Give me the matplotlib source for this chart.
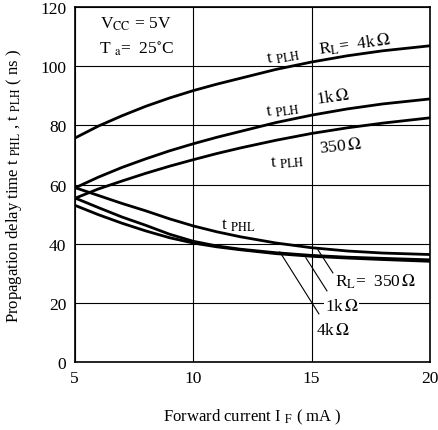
import matplotlib
matplotlib.use("Agg")
import matplotlib.pyplot as plt

plt.rcParams['font.family'] = ['Liberation Serif', 'DejaVu Serif']
plt.rcParams['mathtext.fontset'] = 'stix'

# forward current (mA)
current = [5, 6, 7, 8, 9, 10, 11, 12, 13.5, 15, 16.5, 18, 20]

# tPLH curves (ns)
tplh_4k = [75.7, 79.8, 83.3, 86.5, 89.3, 91.8, 94.0, 96.0, 99.0, 101.5, 103.6, 105.3, 107.0]
tplh_1k = [58.8, 62.5, 65.8, 68.7, 71.4, 73.8, 76.0, 78.0, 81.0, 83.5, 85.6, 87.3, 89.0]
tplh_350 = [55.3, 58.5, 61.2, 63.8, 66.2, 68.4, 70.5, 72.4, 75.0, 77.3, 79.2, 80.8, 82.6]

# tPHL curves (ns)
tphl_350 = [59.0, 56.3, 53.6, 51.1, 48.4, 46.0, 44.0, 42.3, 40.2, 38.6, 37.5, 36.8, 36.3]
tphl_1k = [55.5, 52.2, 49.0, 46.2, 43.2, 40.8, 39.2, 38.1, 36.9, 36.0, 35.4, 35.0, 34.5]
tphl_4k = [53.0, 49.8, 46.9, 44.3, 42.0, 40.2, 38.9, 37.9, 36.6, 35.7, 35.1, 34.6, 34.0]

fig = plt.figure(figsize=(4.39, 4.31), dpi=100)
ax = fig.add_axes([0.170, 0.1585, 0.8095, 0.822])

for series in [tplh_4k, tplh_1k, tplh_350, tphl_350, tphl_1k, tphl_4k]:
    ax.plot(current, series, color='black', lw=2.0, solid_capstyle='butt', zorder=3)

ax.set_xlim(5, 20)
ax.set_ylim(0, 120)
ax.set_xticks([5, 10, 15, 20])
ax.set_yticks(range(0, 121, 20))
ax.grid(color='black', lw=0.8)
ax.tick_params(length=0, labelsize=12.5, pad=6)
for s in ax.spines.values():
    s.set_linewidth(1.2)

ax.set_xlabel(r'Forward current I $_{\mathrm{F}}$ ( mA )', fontsize=12, labelpad=15)
ax.set_ylabel(r'Propagation delay time t $_{\mathrm{PHL}}$ , t $_{\mathrm{PLH}}$ ( ns )',
              fontsize=12, labelpad=12)

fs = 12.5
ax.text(6.05, 114.5, r'V$_{\mathrm{CC}}$ = 5V', fontsize=fs, va='center', ha='left')
ax.text(6.03, 106.3, r'T $_{\mathrm{a}}$=  25$^{\circ}$C', fontsize=fs, va='center', ha='left')

ax.text(13.8, 103.6, r't $_{\mathrm{PLH}}$', fontsize=fs, ha='center', va='center', rotation=10)
ax.text(16.83, 107.7, r'R$_{\mathrm{L}}$=  4k$\,\Omega$', fontsize=fs, ha='center', va='center', rotation=8)
ax.text(13.8, 85.3, r't $_{\mathrm{PLH}}$', fontsize=fs, ha='center', va='center', rotation=8)
ax.text(15.9, 89.7, r'1k$\,\Omega$', fontsize=fs, ha='center', va='center', rotation=8)
ax.text(16.24, 73.1, r'350$\,\Omega$', fontsize=fs, ha='center', va='center', rotation=6)
ax.text(13.96, 68.0, r't $_{\mathrm{PLH}}$', fontsize=fs, ha='center', va='center', rotation=5)
ax.text(11.9, 46.3, r't $_{\mathrm{PHL}}$', fontsize=fs, ha='center', va='center')

ax.plot([15.27, 15.90], [37.9, 30.1], color='black', lw=0.8, zorder=3)
ax.plot([14.76, 15.65], [35.2, 24.0], color='black', lw=0.8, zorder=3)
ax.plot([13.66, 15.31], [37.2, 16.2], color='black', lw=0.8, zorder=3)

ax.text(17.72, 27.4, r'R$_{\mathrm{L}}$=  350$\,\Omega$', fontsize=fs, ha='center', va='center')
ax.text(16.28, 18.9, r'1k$\,\Omega$', fontsize=fs, ha='center', va='center',
        bbox=dict(facecolor='white', edgecolor='none', pad=0.5), zorder=4)
ax.text(15.9, 10.8, r'4k$\,\Omega$', fontsize=fs, ha='center', va='center')

fig.savefig('out.png', dpi=100)
